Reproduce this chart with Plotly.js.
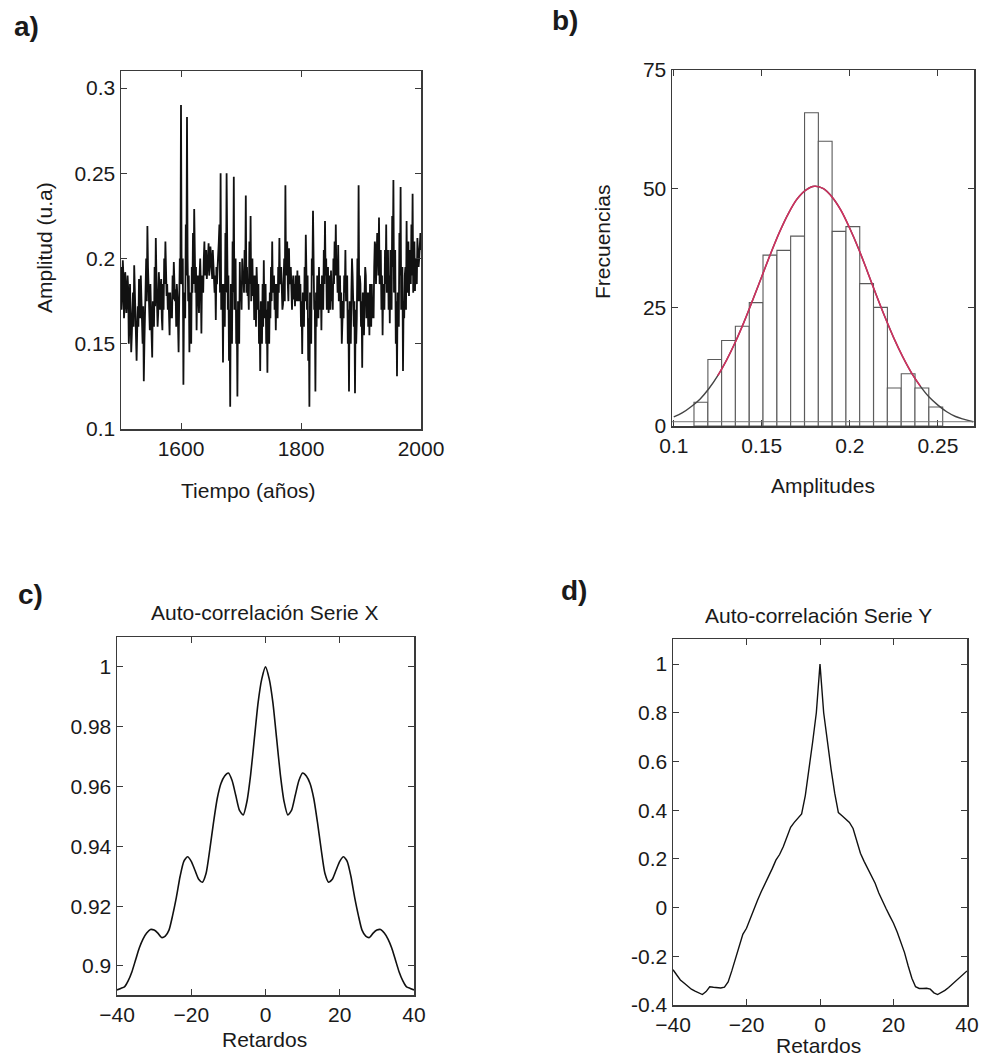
<!DOCTYPE html>
<html>
<head>
<meta charset="utf-8">
<script src="https://cdn.plot.ly/plotly-3.0.1.min.js"></script>
<style>html,body{margin:0;padding:0;background:#fff;}#chart{width:982px;height:1061px;}</style>
</head>
<body>
<div id="chart"></div>
<script>
// ---------- Panel a: annual time series, 1500-2000 ----------
const yearStart = 1500;
const amplitudA = [
0.195,0.170,0.178,0.199,0.190,0.165,0.172,0.192,0.185,0.168,
0.176,0.190,0.182,0.150,0.160,0.185,0.168,0.145,0.155,0.172,
0.180,0.160,0.196,0.182,0.170,0.152,0.140,0.158,0.172,0.160,
0.188,0.175,0.165,0.190,0.178,0.160,0.150,0.172,0.128,0.150,
0.165,0.185,0.200,0.175,0.219,0.195,0.180,0.168,0.158,0.185,
0.175,0.155,0.142,0.175,0.170,0.160,0.195,0.172,0.212,0.190,
0.178,0.160,0.168,0.192,0.185,0.170,0.175,0.188,0.165,0.158,
0.185,0.170,0.200,0.185,0.210,0.192,0.178,0.185,0.170,0.180,
0.162,0.155,0.180,0.165,0.172,0.165,0.190,0.176,0.198,0.185,
0.175,0.182,0.160,0.185,0.178,0.162,0.145,0.175,0.200,0.185,
0.290,0.195,0.185,0.200,0.126,0.175,0.180,0.165,0.220,0.190,
0.283,0.200,0.175,0.190,0.145,0.180,0.160,0.150,0.195,0.180,
0.215,0.185,0.229,0.195,0.180,0.195,0.158,0.185,0.190,0.178,
0.168,0.190,0.200,0.185,0.156,0.190,0.185,0.180,0.200,0.210,
0.190,0.198,0.205,0.188,0.192,0.200,0.209,0.190,0.195,0.207,
0.202,0.195,0.188,0.205,0.198,0.185,0.180,0.190,0.164,0.195,
0.185,0.195,0.200,0.210,0.220,0.180,0.250,0.170,0.180,0.185,
0.139,0.185,0.175,0.160,0.215,0.180,0.250,0.180,0.170,0.190,
0.140,0.170,0.113,0.185,0.160,0.150,0.210,0.180,0.248,0.170,
0.185,0.200,0.150,0.170,0.119,0.175,0.170,0.150,0.198,0.175,
0.185,0.170,0.200,0.185,0.192,0.180,0.205,0.185,0.237,0.180,
0.195,0.178,0.185,0.170,0.210,0.185,0.225,0.175,0.190,0.200,
0.178,0.190,0.164,0.190,0.180,0.160,0.195,0.175,0.170,0.185,
0.150,0.170,0.134,0.175,0.165,0.150,0.185,0.160,0.199,0.165,
0.170,0.185,0.150,0.170,0.133,0.175,0.160,0.150,0.180,0.165,
0.195,0.175,0.210,0.180,0.185,0.190,0.170,0.185,0.158,0.185,
0.175,0.165,0.195,0.180,0.212,0.185,0.190,0.195,0.180,0.170,
0.173,0.190,0.200,0.175,0.243,0.190,0.200,0.210,0.185,0.175,
0.206,0.185,0.190,0.195,0.180,0.170,0.183,0.190,0.176,0.185,
0.172,0.190,0.180,0.175,0.193,0.175,0.185,0.190,0.175,0.185,
0.160,0.175,0.144,0.180,0.170,0.160,0.195,0.175,0.214,0.180,
0.170,0.190,0.140,0.165,0.113,0.180,0.165,0.150,0.200,0.190,
0.228,0.185,0.170,0.175,0.122,0.180,0.160,0.190,0.180,0.165,
0.195,0.170,0.175,0.185,0.158,0.190,0.180,0.170,0.205,0.185,
0.222,0.190,0.200,0.170,0.185,0.195,0.168,0.190,0.180,0.170,
0.193,0.175,0.185,0.170,0.200,0.185,0.210,0.190,0.220,0.190,
0.195,0.180,0.208,0.175,0.185,0.190,0.165,0.180,0.150,0.170,
0.175,0.165,0.190,0.180,0.205,0.175,0.180,0.190,0.150,0.170,
0.122,0.175,0.160,0.150,0.180,0.200,0.190,0.165,0.160,0.175,
0.121,0.170,0.150,0.165,0.200,0.175,0.243,0.175,0.190,0.185,
0.160,0.175,0.136,0.180,0.165,0.155,0.180,0.195,0.190,0.165,
0.170,0.180,0.160,0.180,0.155,0.185,0.175,0.160,0.185,0.165,
0.175,0.165,0.195,0.210,0.207,0.185,0.195,0.215,0.210,0.190,
0.224,0.185,0.195,0.205,0.170,0.190,0.155,0.185,0.180,0.170,
0.205,0.185,0.220,0.180,0.190,0.205,0.170,0.190,0.162,0.205,
0.190,0.170,0.225,0.195,0.246,0.180,0.190,0.205,0.150,0.175,
0.131,0.180,0.175,0.160,0.215,0.190,0.242,0.170,0.180,0.195,
0.134,0.175,0.165,0.190,0.195,0.170,0.222,0.180,0.195,0.210,
0.178,0.205,0.200,0.185,0.220,0.190,0.238,0.180,0.200,0.210,
0.181,0.200,0.195,0.185,0.212,0.205,0.195,0.200,0.210,0.215,
0.205
];
const yearsA = amplitudA.map((_, i) => yearStart + i);

// ---------- Panel b: histogram + fitted normal curve ----------
const binCenters = [0.1154,0.1233,0.1311,0.1389,0.1468,0.1546,0.1625,0.1703,0.1782,
                    0.1860,0.1939,0.2017,0.2095,0.2174,0.2252,0.2331,0.2409,0.2488];
const binWidth = 0.00784;
const frecuencias = [5,14,18,21,26,36,37,40,66,60,41,42,30,25,8,11,8,4];
const curveX = [0.100,0.105,0.110,0.115,0.120,0.125,0.130,0.135,0.140,0.145,0.150,0.155,
                0.160,0.165,0.170,0.175,0.180,0.185,0.190,0.195,0.200,0.205,0.210,0.215,
                0.220,0.225,0.230,0.235,0.240,0.245,0.250,0.255,0.260,0.265,0.270];
const curveY = [1.9,2.8,4.1,5.7,7.9,10.6,13.9,17.7,22.0,26.7,31.5,36.3,
                40.8,44.7,47.8,49.7,50.5,50.0,48.2,45.4,41.6,37.3,32.5,27.6,
                22.9,18.5,14.6,11.2,8.4,6.1,4.4,3.0,2.0,1.4,0.9];

// ---------- Panel c / d: autocorrelations ----------
const lags = [-40,-39,-38,-37,-36,-35,-34,-33,-32,-31,-30,-29,-28,-27,-26,-25,-24,-23,-22,-21,
              -20,-19,-18,-17,-16,-15,-14,-13,-12,-11,-10,-9,-8,-7,-6,-5,-4,-3,-2,-1,
              0,1,2,3,4,5,6,7,8,9,10,11,12,13,14,15,16,17,18,19,20,
              21,22,23,24,25,26,27,28,29,30,31,32,33,34,35,36,37,38,39,40];
const acfX = [0.892,0.8925,0.893,0.895,0.898,0.902,0.906,0.909,0.911,0.9122,
              0.912,0.911,0.9095,0.910,0.912,0.917,0.923,0.930,0.935,0.9365,
              0.935,0.932,0.929,0.928,0.931,0.939,0.948,0.956,0.961,0.9635,
              0.9645,0.962,0.957,0.952,0.9505,0.955,0.964,0.976,0.988,0.996,
              1.000,
              0.996,0.988,0.976,0.964,0.955,0.9505,0.952,0.957,0.962,0.9645,
              0.9635,0.961,0.956,0.948,0.939,0.931,0.928,0.929,0.932,0.935,
              0.9365,0.935,0.930,0.923,0.917,0.912,0.910,0.9095,0.911,0.912,
              0.9122,0.911,0.909,0.906,0.902,0.898,0.895,0.893,0.8925,0.892];
const acfY = [-0.255,-0.278,-0.297,-0.310,-0.324,-0.335,-0.343,-0.350,-0.357,-0.345,
              -0.325,-0.327,-0.330,-0.330,-0.327,-0.305,-0.260,-0.210,-0.155,-0.110,
              -0.085,-0.045,-0.003,0.030,0.065,0.095,0.125,0.160,0.195,0.218,
              0.250,0.290,0.330,0.350,0.367,0.385,0.460,0.560,0.680,0.800,
              1.000,
              0.800,0.680,0.570,0.470,0.390,0.377,0.362,0.350,0.325,0.270,
              0.223,0.190,0.160,0.130,0.100,0.060,0.025,-0.005,-0.035,-0.064,
              -0.100,-0.145,-0.185,-0.240,-0.290,-0.325,-0.332,-0.332,-0.331,-0.335,
              -0.350,-0.357,-0.350,-0.340,-0.328,-0.315,-0.300,-0.288,-0.275,-0.260];

// ---------- Layout helpers ----------
const W = 982, H = 1061;
const px = v => v / W;
const py = v => 1 - v / H;
const FONT = 'Liberation Sans, Arial, Helvetica, sans-serif';
const TXT = '#1a1a1a';

function axisBase(extra) {
  return Object.assign({
    showline: true, mirror: 'ticks', linecolor: '#3a3a3a', linewidth: 1.5,
    ticks: 'inside', ticklen: 6, tickwidth: 1, tickcolor: '#3a3a3a',
    showgrid: false, zeroline: false, fixedrange: true,
    tickfont: {family: FONT, size: 21, color: TXT}
  }, extra);
}

const traces = [
  {x: yearsA, y: amplitudA, type: 'scatter', mode: 'lines', xaxis: 'x', yaxis: 'y',
   line: {color: '#111', width: 1.8}, hoverinfo: 'skip'},
  {x: binCenters, y: frecuencias, type: 'bar', width: binWidth, xaxis: 'x2', yaxis: 'y2',
   marker: {color: 'rgba(255,255,255,1)', line: {color: '#5a5a5a', width: 1.1}}, hoverinfo: 'skip'},
  {x: curveX, y: curveY, type: 'scatter', mode: 'lines', xaxis: 'x2', yaxis: 'y2',
   line: {color: '#444', width: 1.4, shape: 'spline'}, hoverinfo: 'skip'},
  {x: curveX.slice(5, 29), y: curveY.slice(5, 29), type: 'scatter', mode: 'lines', xaxis: 'x2', yaxis: 'y2',
   line: {color: '#d0305f', width: 1.6, shape: 'spline'}, hoverinfo: 'skip'},
  {x: lags, y: acfX, type: 'scatter', mode: 'lines', xaxis: 'x3', yaxis: 'y3',
   line: {color: '#111', width: 1.6, shape: 'spline', smoothing: 0.6}, hoverinfo: 'skip'},
  {x: lags, y: acfY, type: 'scatter', mode: 'lines', xaxis: 'x4', yaxis: 'y4',
   line: {color: '#111', width: 1.4}, hoverinfo: 'skip'}
];

function ann(text, x, y, size, opts) {
  return Object.assign({text: text, x: px(x), y: py(y), xref: 'paper', yref: 'paper',
    xanchor: 'center', yanchor: 'middle', showarrow: false,
    font: {family: FONT, size: size, color: TXT}}, opts || {});
}

const layout = {
  width: W, height: H, margin: {l: 0, r: 0, t: 0, b: 0},
  paper_bgcolor: '#fff', plot_bgcolor: '#fff', showlegend: false,
  bargap: 0,
  xaxis: axisBase({domain: [px(121), px(421)], range: [1500, 2000], tickvals: [1600, 1800, 2000], anchor: 'y'}),
  yaxis: axisBase({domain: [py(429), py(71)], range: [0.1, 0.31], tickvals: [0.1, 0.15, 0.2, 0.25, 0.3],
                   ticktext: ['0.1', '0.15', '0.2', '0.25', '0.3'], anchor: 'x'}),
  xaxis2: axisBase({domain: [px(672), px(974)], range: [0.099, 0.2705], tickvals: [0.1, 0.15, 0.2, 0.25],
                    ticktext: ['0.1', '0.15', '0.2', '0.25'], anchor: 'y2'}),
  yaxis2: axisBase({domain: [py(426), py(70)], range: [0, 75], tickvals: [0, 25, 50, 75], anchor: 'x2'}),
  xaxis3: axisBase({domain: [px(117), px(414)], range: [-40, 40], tickvals: [-40, -20, 0, 20, 40], anchor: 'y3'}),
  yaxis3: axisBase({domain: [py(995), py(637)], range: [0.8903, 1.010], tickvals: [0.9, 0.92, 0.94, 0.96, 0.98, 1],
                    ticktext: ['0.9', '0.92', '0.94', '0.96', '0.98', '1'], anchor: 'x3'}),
  xaxis4: axisBase({domain: [px(673), px(967)], range: [-40, 40], tickvals: [-40, -20, 0, 20, 40], anchor: 'y4'}),
  yaxis4: axisBase({domain: [py(1005), py(639)], range: [-0.4, 1.103], tickvals: [-0.4, -0.2, 0, 0.2, 0.4, 0.6, 0.8, 1],
                    ticktext: ['-0.4', '-0.2', '0', '0.2', '0.4', '0.6', '0.8', '1'], anchor: 'x4'}),
  shapes: [
    {type: 'line', xref: 'x2', yref: 'y2', x0: 0.099, x1: 0.2705, y0: 0.9, y1: 0.9,
     line: {color: '#777', width: 1}}
  ],
  annotations: [
    ann('<b>a)</b>', 26, 26, 28),
    ann('<b>b)</b>', 565, 20, 28),
    ann('<b>c)</b>', 30, 594, 28),
    ann('<b>d)</b>', 574, 590, 28),
    ann('Amplitud (u.a)', 44, 248, 21, {textangle: -90}),
    ann('Tiempo (años)', 249, 490, 21),
    ann('Frecuencias', 602, 242, 21, {textangle: -90}),
    ann('Amplitudes', 823, 486, 21),
    ann('Auto-correlación Serie X', 265, 612, 21),
    ann('Retardos', 264, 1039, 21),
    ann('Auto-correlación Serie Y', 818, 615, 21),
    ann('Retardos', 818, 1045, 21)
  ]
};

Plotly.newPlot('chart', traces, layout, {staticPlot: true, displayModeBar: false});
</script>
</body>
</html>
